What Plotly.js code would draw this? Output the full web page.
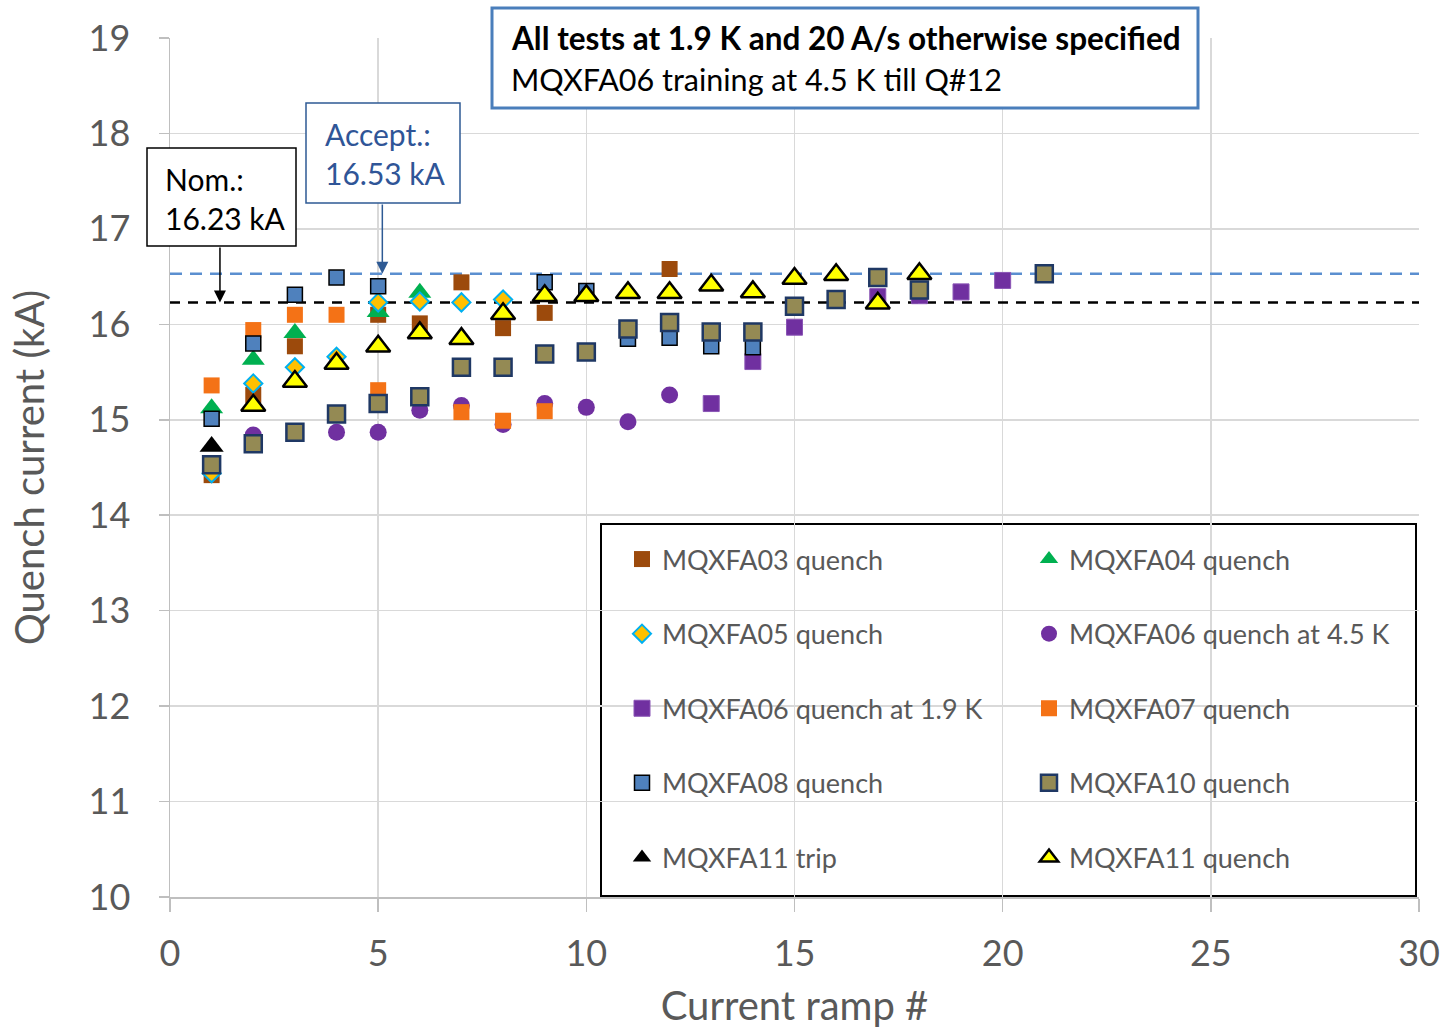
<!DOCTYPE html>
<html><head><meta charset="utf-8">
<script src="https://cdn.plot.ly/plotly-3.0.1.min.js"></script>
<style>html,body{margin:0;padding:0;background:#fff}#chart{width:1446px;height:1029px}</style>
</head><body><div id="chart"></div>
<script>
// ---- data ----
const nominal = 16.23;
const acceptance = 16.53;

const ramp03 = [1,2,3,5,6,7,8,9,12];
const mqxfa03 = [14.42,15.26,15.77,16.10,16.01,16.44,15.96,16.12,16.58];

const ramp04 = [1,2,3,5,6];
const mqxfa04 = [15.12,15.63,15.91,16.13,16.33];

const ramp05 = [1,2,3,4,5,6,7,8];
const mqxfa05 = [14.44,15.38,15.55,15.66,16.23,16.24,16.23,16.26];

const ramp06w = [2,4,5,6,7,8,9,10,11,12];
const mqxfa06w = [14.84,14.87,14.87,15.10,15.15,14.95,15.17,15.13,14.98,15.26];

const ramp06c = [13,14,15,16,17,18,19,20];
const mqxfa06c = [15.17,15.61,15.97,16.27,16.29,16.30,16.34,16.46];

const ramp07 = [1,2,3,4,5,7,8,9];
const mqxfa07 = [15.36,15.94,16.10,16.10,15.31,15.08,14.99,15.09];

const ramp08 = [1,2,3,4,5,9,10,11,12,13,14];
const mqxfa08 = [15.01,15.80,16.31,16.49,16.40,16.44,16.35,15.85,15.86,15.77,15.76];

const ramp10 = [1,2,3,4,5,6,7,8,9,10,11,12,13,14,15,16,17,18,21];
const mqxfa10 = [14.53,14.75,14.87,15.06,15.17,15.24,15.55,15.55,15.69,15.71,15.95,16.02,15.92,15.92,16.19,16.26,16.49,16.36,16.53];

const ramp11t = [1];
const mqxfa11t = [14.72];

const ramp11 = [2,3,4,5,6,7,8,9,10,11,12,13,14,15,16,17,18];
const mqxfa11 = [15.15,15.40,15.59,15.77,15.91,15.85,16.11,16.30,16.30,16.33,16.33,16.41,16.34,16.48,16.52,16.22,16.53];

const seriesNames = ['MQXFA03 quench','MQXFA04 quench','MQXFA05 quench','MQXFA06 quench at 4.5 K',
  'MQXFA06 quench at 1.9 K','MQXFA07 quench','MQXFA08 quench','MQXFA10 quench','MQXFA11 trip','MQXFA11 quench'];

// ---- layout helpers ----
const W = 1446, H = 1029, ML = 170, MR = 27, MT = 38, MB = 132;
const PW = W - ML - MR, PH = H - MT - MB;
const px = v => (v - ML) / PW;
const py = v => (H - MB - v) / PH;
const FONT = 'Lato, "Open Sans", sans-serif';
const GREY = '#595959';

function tr(x, y, i, legend, marker) {
  return {x: x, y: y, name: seriesNames[i], legend: legend, legendgroup: 'g' + i, type: 'scatter', mode: 'markers',
    marker: marker, hoverinfo: 'x+y'};
}

const data = [
  tr(ramp03, mqxfa03, 0, 'legend', {symbol: 'square', size: 16, color: '#9c4a0c'}),
  tr(ramp04, mqxfa04, 1, 'legend2', {symbol: 'triangle-up', size: 20, color: '#00b050'}),
  tr(ramp05, mqxfa05, 2, 'legend', {symbol: 'diamond', size: 14, color: '#ffc000', line: {color: '#00b0f0', width: 2}}),
  tr(ramp06w, mqxfa06w, 3, 'legend2', {symbol: 'circle', size: 17, color: '#7030a0'}),
  tr(ramp06c, mqxfa06c, 4, 'legend', {symbol: 'square', size: 16, color: '#7030a0', line: {color: '#8a55b5', width: 1}}),
  tr(ramp07, mqxfa07, 5, 'legend2', {symbol: 'square', size: 16, color: '#f47216'}),
  tr(ramp08, mqxfa08, 6, 'legend', {symbol: 'square', size: 15, color: '#4f81bd', line: {color: '#000000', width: 1.5}}),
  tr(ramp10, mqxfa10, 7, 'legend2', {symbol: 'square', size: 17, color: '#948a54', line: {color: '#1f3864', width: 2.5}}),
  tr(ramp11t, mqxfa11t, 8, 'legend', {symbol: 'triangle-up', size: 21, color: '#000000'}),
  tr(ramp11, mqxfa11, 9, 'legend2', {symbol: 'triangle-up', size: 21, color: '#ffff00', line: {color: '#000000', width: 2.5}})
];

const shapes = [
  {type: 'rect', xref: 'paper', yref: 'paper', x0: px(601), x1: px(1416), y0: py(896), y1: py(524),
   line: {color: '#000', width: 2}, fillcolor: '#ffffff', layer: 'between'},
  {type: 'line', xref: 'x', yref: 'y', x0: 0, x1: 30, y0: acceptance, y1: acceptance,
   line: {color: '#5b8fd0', width: 2.5, dash: '12px,8px'}, layer: 'between'},
  {type: 'line', xref: 'x', yref: 'y', x0: 0, x1: 30, y0: nominal, y1: nominal,
   line: {color: '#000000', width: 2.5, dash: '10px,8px'}, layer: 'between'},
  {type: 'rect', xref: 'paper', yref: 'paper', x0: px(147), x1: px(296), y0: py(246), y1: py(148),
   line: {color: '#000', width: 1.5}, fillcolor: '#ffffff', layer: 'above'},
  {type: 'rect', xref: 'paper', yref: 'paper', x0: px(306), x1: px(460), y0: py(203), y1: py(103),
   line: {color: '#2e5a94', width: 1.5}, fillcolor: '#ffffff', layer: 'above'},
  {type: 'rect', xref: 'paper', yref: 'paper', x0: px(492), x1: px(1198), y0: py(108), y1: py(8),
   line: {color: '#4a7ebb', width: 3}, fillcolor: '#ffffff', layer: 'above'}
];

const annotations = [
  {xref: 'paper', yref: 'paper', x: px(163), y: py(198.5), xanchor: 'left', yanchor: 'middle', align: 'left',
   showarrow: false, text: 'Nom.:<br>16.23 kA', font: {family: FONT, size: 30, color: '#000'}},
  {xref: 'paper', yref: 'paper', x: px(323), y: py(153.5), xanchor: 'left', yanchor: 'middle', align: 'left',
   showarrow: false, text: 'Accept.:<br>16.53 kA', font: {family: FONT, size: 30, color: '#2f5597'}},
  {xref: 'paper', yref: 'paper', x: px(509), y: py(38), xanchor: 'left', yanchor: 'middle', align: 'left',
   showarrow: false, text: '<b>All tests at 1.9 K and 20 A/s otherwise specified</b>', font: {family: FONT, size: 31.5, color: '#000'}},
  {xref: 'paper', yref: 'paper', x: px(509), y: py(79), xanchor: 'left', yanchor: 'middle', align: 'left',
   showarrow: false, text: 'MQXFA06 training at 4.5 K till Q#12', font: {family: FONT, size: 30.5, color: '#000'}},
  {x: 1.2, y: nominal, ax: 1.2, ay: 16.82, axref: 'x', ayref: 'y', text: '', showarrow: true,
   arrowhead: 2, arrowsize: 1.6, arrowwidth: 1.5, arrowcolor: '#000', standoff: 0},
  {x: 5.1, y: acceptance, ax: 5.1, ay: 17.27, axref: 'x', ayref: 'y', text: '', showarrow: true,
   arrowhead: 2, arrowsize: 1.6, arrowwidth: 1.5, arrowcolor: '#2e5a94', standoff: 0}
];

const axisCommon = {
  showgrid: true, gridcolor: '#d9d9d9', gridwidth: 1.5, zeroline: false,
  showline: true, linecolor: '#bfbfbf', linewidth: 1.5, mirror: false,
  ticks: 'outside', tickcolor: '#bfbfbf', tickwidth: 1.5,
  tickfont: {family: FONT, size: 36, color: GREY}, fixedrange: true
};

const legendCommon = {orientation: 'v', xanchor: 'left', yanchor: 'top', valign: 'middle',
  bgcolor: 'rgba(0,0,0,0)', borderwidth: 0, tracegroupgap: 36.5,
  font: {family: FONT, size: 27, color: GREY}, traceorder: 'grouped'};

const layout = {
  width: W, height: H,
  margin: {l: ML, r: MR, t: MT, b: MB, pad: 0, autoexpand: false},
  paper_bgcolor: '#fff', plot_bgcolor: '#fff',
  font: {family: FONT, color: GREY},
  showlegend: true,
  legend: Object.assign({}, legendCommon, {x: px(622), y: py(535)}),
  legend2: Object.assign({}, legendCommon, {x: px(1029), y: py(535)}),
  xaxis: Object.assign({}, axisCommon, {range: [0, 30], dtick: 5, tick0: 0, ticklen: 13, ticklabelstandoff: 11,
    title: {text: 'Current ramp #', font: {family: FONT, size: 40, color: GREY}, standoff: 36}}),
  yaxis: Object.assign({}, axisCommon, {range: [10, 19], dtick: 1, tick0: 10, ticklen: 10, ticklabelstandoff: 21,
    title: {text: 'Quench current (kA)', font: {family: FONT, size: 40, color: GREY}, standoff: 31}}),
  shapes: shapes,
  annotations: annotations
};

Plotly.newPlot('chart', data, layout, {displayModeBar: false, staticPlot: true});
</script>
</body></html>
